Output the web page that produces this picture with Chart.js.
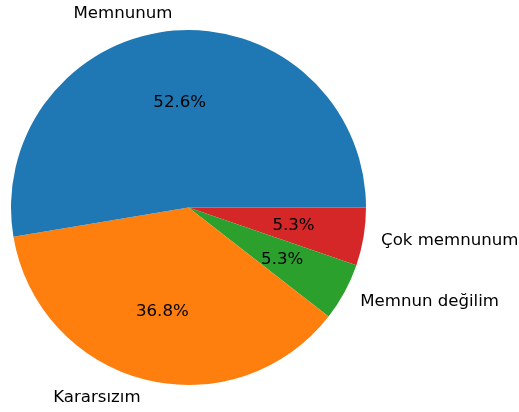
<!DOCTYPE html>
<html>
<head>
<meta charset="utf-8">
<script src="https://cdn.jsdelivr.net/npm/chart.js@4/dist/chart.umd.min.js"></script>
<style>
  body { margin: 0; background: #fff; }
  canvas { display: block; }
</style>
</head>
<body>
<canvas id="pieChart" width="519" height="412"></canvas>
<script>
// matplotlib order (counter-clockwise from 3 o'clock)
const categories = ["Memnunum", "Kararsızım", "Memnun değilim", "Çok memnunum"];
const counts = [10, 7, 1, 1];
const colors = ["#1f77b4", "#ff7f0e", "#2ca02c", "#d62728"];

// Chart.js draws clockwise, so reverse to get the same layout
const labels = categories.slice().reverse();
const values = counts.slice().reverse();
const bg = colors.slice().reverse();
const total = counts.reduce((a, b) => a + b, 0);

const pieLabels = {
  id: "pieLabels",
  afterDatasetsDraw(chart) {
    const ctx = chart.ctx;
    const arcs = chart.getDatasetMeta(0).data;
    ctx.save();
    ctx.font = "16.6px 'DejaVu Sans'";
    ctx.fillStyle = "#000";
    ctx.textBaseline = "middle";
    arcs.forEach((arc, i) => {
      const mid = (arc.startAngle + arc.endAngle) / 2;
      const r = arc.outerRadius;
      const c = Math.cos(mid), s = Math.sin(mid);
      // outer category label
      ctx.textAlign = c < 0 ? "right" : "left";
      ctx.fillText(labels[i], arc.x + c * r * 1.1, arc.y + s * r * 1.1 + 1);
      // percentage inside
      ctx.textAlign = "center";
      const pct = (values[i] / total * 100).toFixed(1) + "%";
      ctx.fillText(pct, arc.x + c * r * 0.6, arc.y + s * r * 0.6 + 1);
    });
    ctx.restore();
  },
};

new Chart(document.getElementById("pieChart").getContext("2d"), {
  type: "pie",
  data: {
    labels: labels,
    datasets: [
      { data: values, backgroundColor: bg, borderWidth: 0 },
    ],
  },
  options: {
    responsive: false,
    animation: false,
    rotation: 90,
    layout: { padding: { left: 11, right: 153, top: 30, bottom: 27 } },
    plugins: {
      legend: { display: false },
      tooltip: { enabled: false },
    },
  },
  plugins: [pieLabels],
});
</script>
</body>
</html>
